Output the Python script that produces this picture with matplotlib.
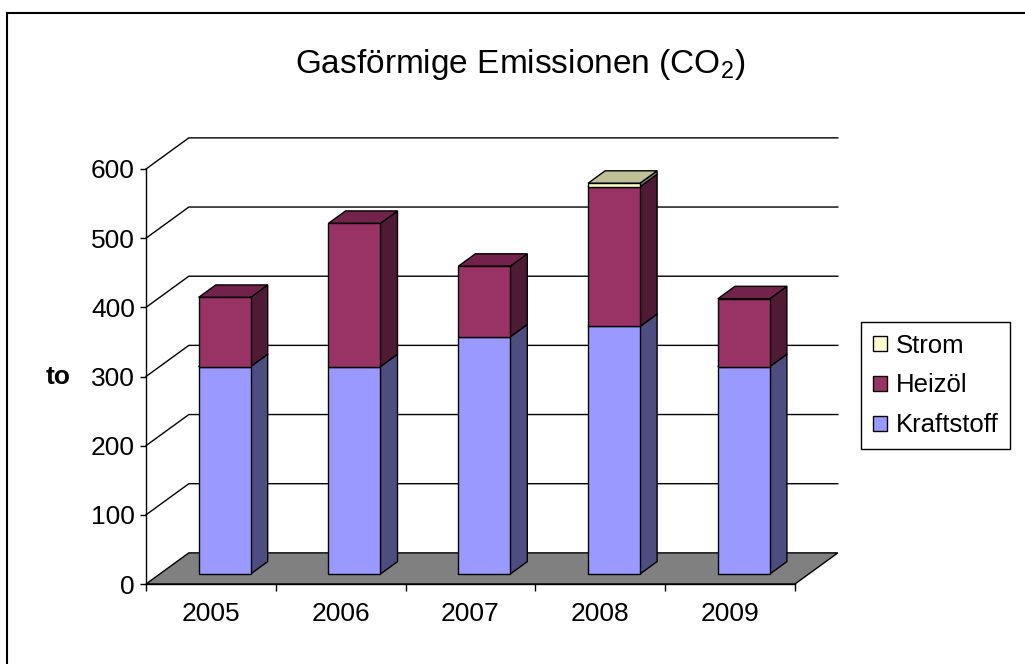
# Gasförmige Emissionen (CO2) - pseudo 3d gestapelte Säulen wie in Excel

import numpy as np
import matplotlib
matplotlib.use('Agg')
import matplotlib.pyplot as plt
from matplotlib.patches import Polygon, Patch, Rectangle

# Daten
jahre = ['2005', '2006', '2007', '2008', '2009']
kraftstoff = [300, 300, 343, 358, 300]
heizoel = [100, 207, 102, 202, 98]
strom = [0, 0, 0, 5, 0]
y_ticks = [0, 100, 200, 300, 400, 500, 600]

plt.rcParams['font.family'] = 'Liberation Sans'
plt.rcParams['mathtext.fontset'] = 'custom'
plt.rcParams['mathtext.rm'] = 'Liberation Sans'

W, H = 1025, 664
fig = plt.figure(figsize=(W / 100, H / 100), dpi=100)
ax = fig.add_axes([146 / W, 80 / H, 649 / W, 415 / H])
ax.set_xlim(0, 5)
ax.set_ylim(0, 600)
ax.patch.set_visible(False)

# tiefe der 3d box in datenkoordinaten
DX, DY = 0.33, 45
F0, F1 = 0.32, 0.72   # vorder- und rückseite der säulen
BW = 0.4

# boden
ax.add_patch(Polygon([(0, 0), (5, 0), (5 + DX, DY), (DX, DY)], closed=True,
                     fc='#808080', ec='black', lw=1, clip_on=False, zorder=1))

# gitterlinien (seitenwand + rückwand)
for v in y_ticks[1:]:
    ax.plot([0, DX, 5 + DX], [v, v + DY, v + DY], color='black', lw=1,
            clip_on=False, zorder=0.5)

# säulen
x = np.arange(len(jahre)) + 0.5
series = [
    (kraftstoff, '#9999FF', '#7A7ACC', '#4D4D80'),
    (heizoel, '#993366', '#73234B', '#4F1A34'),
    (strom, '#FFFFCC', '#C0C098', '#80806A'),
]
bottom = np.zeros(len(jahre))
ddx = (F1 - F0) * DX
ddy = (F1 - F0) * DY
for k, (vals, c_front, c_top, c_side) in enumerate(series):
    vals = np.array(vals, dtype=float)
    z = 2 + k
    for i in range(len(jahre)):
        if vals[i] <= 0:
            continue
        x0 = x[i] - BW / 2 + F0 * DX
        x1 = x0 + BW
        y0 = bottom[i] + F0 * DY
        y1 = y0 + vals[i]
        ax.add_patch(Polygon([(x1, y0), (x1 + ddx, y0 + ddy), (x1 + ddx, y1 + ddy), (x1, y1)],
                             closed=True, fc=c_side, ec='black', lw=1, clip_on=False, zorder=z))
        ax.add_patch(Polygon([(x0, y1), (x1, y1), (x1 + ddx, y1 + ddy), (x0 + ddx, y1 + ddy)],
                             closed=True, fc=c_top, ec='black', lw=1, clip_on=False, zorder=z))
    m = vals > 0
    ax.bar(x[m] + F0 * DX, vals[m], BW, bottom=bottom[m] + F0 * DY, color=c_front,
           edgecolor='black', lw=1, clip_on=False, zorder=z + 0.1)
    bottom += vals

# achsen
for s in ['top', 'right']:
    ax.spines[s].set_visible(False)
ax.spines['left'].set_linewidth(1)
ax.spines['bottom'].set_linewidth(1)
ax.set_yticks(y_ticks)
ax.tick_params(axis='y', length=4, width=1, pad=4, labelsize=19, colors='black')
ax.set_xticks(range(6))
ax.set_xticklabels([])
ax.tick_params(axis='x', which='major', length=5, width=1)
ax.set_xticks(x, minor=True)
ax.set_xticklabels(jahre, minor=True)
ax.tick_params(axis='x', which='minor', length=0, pad=13, labelsize=19)

ax.set_ylabel('to', rotation=0, fontsize=19, fontweight='bold', va='center', ha='center')
ax.yaxis.set_label_coords(-0.136, 0.5)

fig.text(520 / W, 1 - 64 / H, r'Gasförmige Emissionen (CO$_\mathrm{2}$)',
         ha='center', va='center', fontsize=24)

handles = [Patch(fc='#FFFFCC', ec='black', label='Strom'),
           Patch(fc='#993366', ec='black', label='Heizöl'),
           Patch(fc='#9999FF', ec='black', label='Kraftstoff')]
leg = fig.legend(handles=handles, loc='upper left', bbox_to_anchor=(861 / W, 1 - 322 / H),
                 fontsize=18.5, frameon=True, fancybox=False, framealpha=1,
                 edgecolor='black', handlelength=0.55, handleheight=0.55,
                 handletextpad=0.35, labelspacing=0.62, borderpad=0.45, borderaxespad=0)
leg.get_frame().set_linewidth(1)

# rahmen um das diagramm
fig.add_artist(Rectangle((7 / W, -0.05), 1.1, 1.05 - 13 / H, transform=fig.transFigure,
                         fill=False, ec='black', lw=1.5, clip_on=False))

fig.savefig('out.png', dpi=100)
